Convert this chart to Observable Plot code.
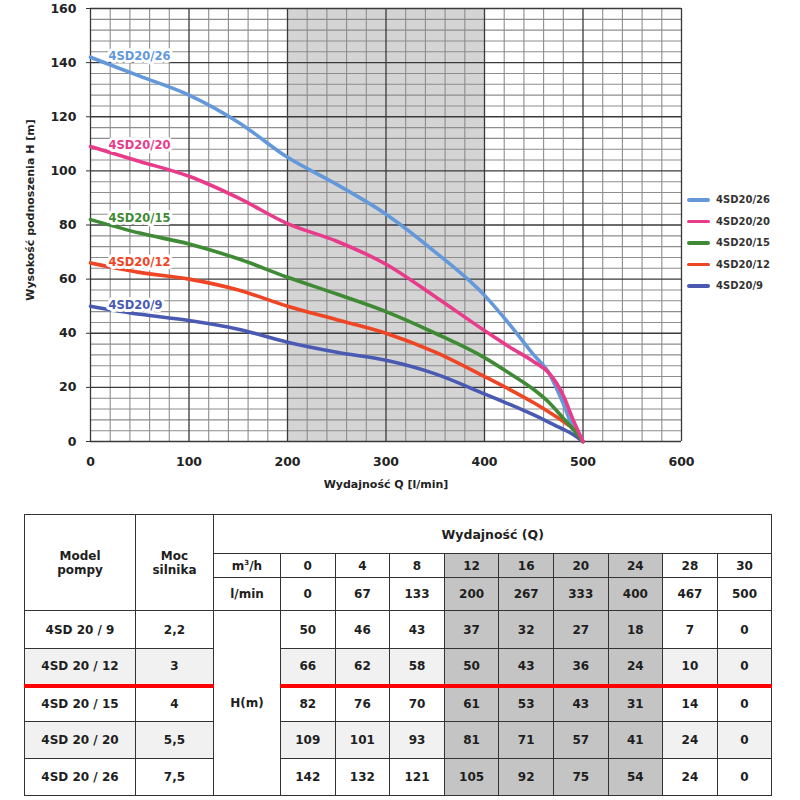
<!DOCTYPE html>
<html>
<head>
<meta charset="utf-8">
<script src="https://cdn.jsdelivr.net/npm/d3@7"></script>
<script src="https://cdn.jsdelivr.net/npm/@observablehq/plot@0.6"></script>
<style>
  body { margin: 0; background: #fff; font-family: "DejaVu Sans", sans-serif; }
  #wrap { position: relative; width: 800px; height: 800px; overflow: hidden; }
  #chart { position: absolute; left: 0; top: 0; }
  .axlabel { position: absolute; font-size: 11px; font-weight: bold; color: #222; white-space: nowrap; }
  #ylab { left: 30px; top: 210px; transform: translate(-50%, -50%) rotate(-90deg); }
  #xlab { left: 386px; top: 484px; transform: translate(-50%, -50%); }
  #legend { position: absolute; left: 686px; top: 190px; }
  .lg { position: absolute; left: 0; height: 14px; width: 110px; }
  .lg span.sw { position: absolute; left: 1px; top: 5px; width: 23px; height: 3.5px; border-radius: 2px; }
  .lg span.tx { position: absolute; left: 30px; top: 0; font-size: 10px; font-weight: bold; color: #333; line-height: 14px; }
  #tbl { position: absolute; left: 24px; top: 514px; border-collapse: collapse; table-layout: fixed;
         font-size: 12px; font-weight: bold; color: #1e1e1e; }
  #tbl td { border: 1.5px solid #333; text-align: center; vertical-align: middle; padding: 0; }
  #tbl td.sh { background: #c4c4c4; }
  #tbl tr.alt td.plain { background: #f1f1f1; }
  #tbl tr.redtop td { border-top: 4px solid #ff0000; }
</style>
</head>
<body>
<div id="wrap">
  <div id="chart"></div>
  <div class="axlabel" id="ylab">Wysokość podnoszenia H [m]</div>
  <div class="axlabel" id="xlab">Wydajność Q [l/min]</div>
  <div id="legend"></div>
  <table id="tbl"></table>
</div>
<script>
// ---------- chart data ----------
const models = ["4SD20/26", "4SD20/20", "4SD20/15", "4SD20/12", "4SD20/9"];
const colors = ["#6399da", "#e83c8b", "#3f8a34", "#ee4525", "#4a5ab2"];
const curveQ = [0, 50, 100, 150, 200, 250, 300, 350, 400, 425, 450, 465, 480, 490, 500];
const h26 = [142, 135, 128, 118, 105, 95, 84, 70, 54, 43.5, 32, 25.5, 14, 5, 0];
const h20 = [109, 103.5, 98, 90, 80.5, 74, 65.5, 53.5, 41, 35, 29.5, 25.5, 17, 8, 0];
const h15 = [82, 77, 73, 67.5, 60.7, 54.5, 48, 40, 31, 25.3, 19.2, 14.6, 8.6, 4.5, 0];
const h12 = [66, 62.5, 60, 56, 50, 45, 40, 33, 24, 19.3, 14.3, 11, 7.4, 4.7, 0];
const h9  = [50, 47, 44.7, 41.5, 36.7, 33, 30, 25, 17.6, 13.8, 9.8, 7.2, 4.5, 2.6, 0];
const curveH = [h26, h20, h15, h12, h9];
const drawOrder = [0, 4, 3, 2, 1];
const xTicks = [0, 100, 200, 300, 400, 500, 600];
const yTicks = [0, 20, 40, 60, 80, 100, 120, 140, 160];
const qDomain = [0, 600];
const hDomain = [0, 160];
const minorQStep = 20;
const minorHStep = 4;
const shadedQ = [200, 400];

// ---------- table data ----------
const tableQm3h = [0, 4, 8, 12, 16, 20, 24, 28, 30];
const tableQlmin = [0, 67, 133, 200, 267, 333, 400, 467, 500];
const tableModels = ["4SD 20 / 9", "4SD 20 / 12", "4SD 20 / 15", "4SD 20 / 20", "4SD 20 / 26"];
const tablePower = ["2,2", "3", "4", "5,5", "7,5"];
const tableH = [
  [50, 46, 43, 37, 32, 27, 18, 7, 0],
  [66, 62, 58, 50, 43, 36, 24, 10, 0],
  [82, 76, 70, 61, 53, 43, 31, 14, 0],
  [109, 101, 93, 81, 71, 57, 41, 24, 0],
  [142, 132, 121, 105, 92, 75, 54, 24, 0]
];

// ---------- chart ----------
const rows = drawOrder.flatMap(i => curveQ.map((q, j) => ({model: models[i], q, h: curveH[i][j]})));
const labelRows = models.map((m, i) => ({model: m, q: curveQ[0], h: curveH[i][0]}));
const minorQ = d3.range(qDomain[0], qDomain[1] + 1, minorQStep).filter(v => !xTicks.includes(v));
const minorH = d3.range(hDomain[0], hDomain[1] + 1, minorHStep).filter(v => !yTicks.includes(v));

const plot = Plot.plot({
  width: 800, height: 500,
  marginTop: 8, marginBottom: 59, marginLeft: 90, marginRight: 119,
  x: {domain: qDomain, ticks: xTicks, tickSize: 0, tickPadding: 16, label: null, tickFormat: d => String(d)},
  y: {domain: hDomain, ticks: yTicks, tickSize: 4, tickPadding: 10, label: null, tickFormat: d => String(d)},
  color: {domain: models, range: colors},
  style: {fontFamily: "DejaVu Sans", fontSize: "12.5px", fontWeight: "bold", color: "#222", background: "white", overflow: "visible"},
  marks: [
    Plot.rect([shadedQ], {x1: d => d[0], x2: d => d[1], y1: () => hDomain[0], y2: () => hDomain[1], fill: "#d4d4d4"}),
    Plot.ruleX(minorQ, {stroke: "#8d8d8d", strokeWidth: 1.1}),
    Plot.ruleY(minorH, {stroke: "#8d8d8d", strokeWidth: 1.1}),
    Plot.ruleX(xTicks, {stroke: "#3a3a3a", strokeWidth: 1.3}),
    Plot.ruleY(yTicks, {stroke: "#3a3a3a", strokeWidth: 1.3}),
    Plot.axisX({ticks: xTicks, tickSize: 0, tickPadding: 16, tickFormat: d => String(d), fill: "#222"}),
    Plot.axisY({ticks: yTicks, tickSize: 4, tickPadding: 10, tickFormat: d => String(d), fill: "#222", stroke: "#333"}),
    Plot.line(rows, {x: "q", y: "h", z: "model", stroke: "model", strokeWidth: 3.6, curve: "monotone-x", strokeLinecap: "round"}),
    Plot.text(labelRows, {x: "q", y: "h", text: "model", fill: "model", dx: 18, dy: -1, textAnchor: "start",
      stroke: "white", strokeWidth: 6, fontSize: 11.5, fontWeight: "bold"})
  ]
});
document.getElementById("chart").appendChild(plot);

// ---------- legend ----------
const legend = document.getElementById("legend");
const legendStep = 21.5;
models.forEach((m, i) => {
  const row = document.createElement("div");
  row.className = "lg";
  row.style.top = (i * legendStep + 3) + "px";
  row.innerHTML = `<span class="sw" style="background:${colors[i]}"></span><span class="tx">${m}</span>`;
  legend.appendChild(row);
});

// ---------- table ----------
const tbl = document.getElementById("tbl");
const colWidths = [111, 78, 67].concat(tableQm3h.map(() => 54.6));
const cg = document.createElement("colgroup");
colWidths.forEach(w => { const c = document.createElement("col"); c.style.width = w + "px"; cg.appendChild(c); });
tbl.appendChild(cg);
const isShaded = q => q >= shadedQ[0] && q <= shadedQ[1];

function td(html, opts = {}) {
  const c = document.createElement("td");
  c.innerHTML = html;
  if (opts.rowspan) c.rowSpan = opts.rowspan;
  if (opts.colspan) c.colSpan = opts.colspan;
  if (opts.cls) c.className = opts.cls;
  if (opts.style) c.style.cssText = opts.style;
  return c;
}
// header row 1
let tr = document.createElement("tr");
tr.style.height = "39px";
tr.appendChild(td("Model<br>pompy", {rowspan: 3, style: "line-height:14px"}));
tr.appendChild(td("Moc<br>silnika", {rowspan: 3, style: "line-height:14px"}));
tr.appendChild(td("Wydajność (Q)", {colspan: 1 + tableQm3h.length, style: "font-size:12.5px"}));
tbl.appendChild(tr);
// header row 2
tr = document.createElement("tr");
tr.style.height = "24px";
tr.appendChild(td("m<sup style='font-size:7px'>3</sup>/h"));
tableQm3h.forEach((v, j) => tr.appendChild(td(String(v), {cls: isShaded(tableQlmin[j]) ? "sh" : "plain"})));
tbl.appendChild(tr);
// header row 3
tr = document.createElement("tr");
tr.style.height = "33px";
tr.appendChild(td("l/min"));
tableQlmin.forEach(v => tr.appendChild(td(String(v), {cls: isShaded(v) ? "sh" : "plain"})));
tbl.appendChild(tr);
// data rows
const rowHeights = [38, 37, 36, 37, 37];
tableModels.forEach((m, i) => {
  const r = document.createElement("tr");
  r.style.height = rowHeights[i] + "px";
  let cls = [];
  if (i % 2 === 1) cls.push("alt");
  if (i === 2) cls.push("redtop");
  r.className = cls.join(" ");
  r.appendChild(td(m, {cls: "plain"}));
  r.appendChild(td(tablePower[i], {cls: "plain"}));
  if (i === 0) r.appendChild(td("H(m)", {rowspan: tableModels.length, style: "background:#fff"}));
  tableH[i].forEach((v, j) => r.appendChild(td(String(v), {cls: isShaded(tableQlmin[j]) ? "sh" : "plain"})));
  tbl.appendChild(r);
});
</script>
</body>
</html>
